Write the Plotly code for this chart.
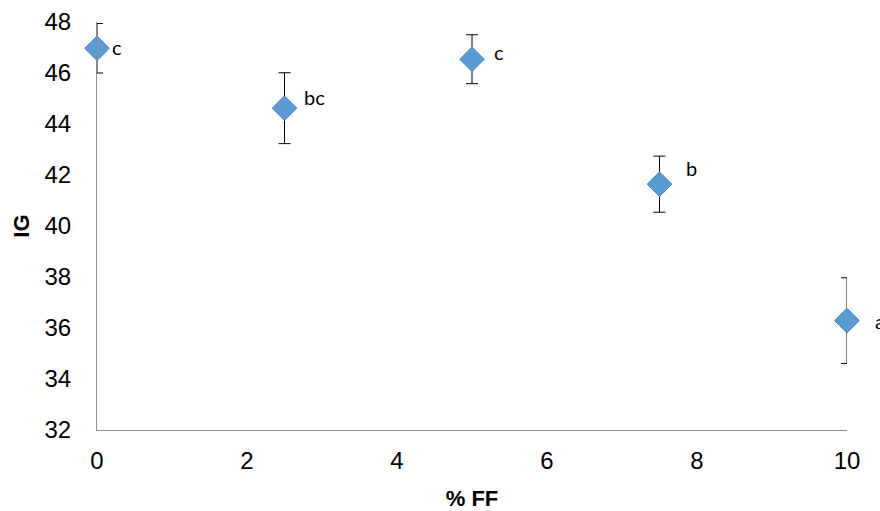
import plotly.graph_objects as go

ff = [0, 2.5, 5, 7.5, 10]
ig = [46.97, 44.62, 46.54, 41.64, 36.29]
ig_err = [0.97, 1.39, 0.96, 1.1, 1.68]
letters = ["c", "bc", "c", "b", "a"]

x_ticks = [0, 2, 4, 6, 8, 10]
y_ticks = [32, 34, 36, 38, 40, 42, 44, 46, 48]

# label offsets in pixels (style), measured to the label's left edge
label_dx = [13, 17, 20, 24, 26]
label_dy = [1, 11, 7, 16, 0]

fig = go.Figure()
fig.add_trace(go.Scatter(
    x=ff, y=ig, mode="markers",
    marker=dict(symbol="diamond", size=19, color="#5B9BD5",
                line=dict(color="#4A86C2", width=1)),
    error_y=dict(type="data", array=ig_err, visible=True,
                 color="black", thickness=1, width=6),
    cliponaxis=False, showlegend=False,
))

for xv, yv, t, dx, dy in zip(ff, ig, letters, label_dx, label_dy):
    fig.add_annotation(x=xv, y=yv, text=t, showarrow=False,
                       xshift=dx, yshift=dy, xanchor="left",
                       font=dict(family="Lato, Open Sans, sans-serif", size=20, color="black"))

fig.update_layout(
    width=880, height=511,
    margin=dict(l=97, r=33, t=22, b=81),
    paper_bgcolor="white", plot_bgcolor="white",
    font=dict(family="Liberation Sans, Arial, sans-serif", color="black"),
    xaxis=dict(range=[0, 10], tickvals=x_ticks, showgrid=False, zeroline=False,
               showline=True, linecolor="#8c8c8c", linewidth=1, ticks="",
               tickfont=dict(size=24), ticklabelstandoff=9, automargin=False,
               title=dict(text="<b>% FF</b>", font=dict(size=22), standoff=18)),
    yaxis=dict(range=[32, 48], tickvals=y_ticks, showgrid=False, zeroline=False,
               showline=True, linecolor="#8c8c8c", linewidth=1, ticks="",
               tickfont=dict(size=24), ticklabelstandoff=20, automargin=False,
               title=dict(text="<b>IG</b>", font=dict(size=22), standoff=8)),
)

fig.write_html(
    "out.html",
    config={"displayModeBar": False},
    post_script="document.body.style.margin='0';document.body.style.overflow='hidden';",
)
